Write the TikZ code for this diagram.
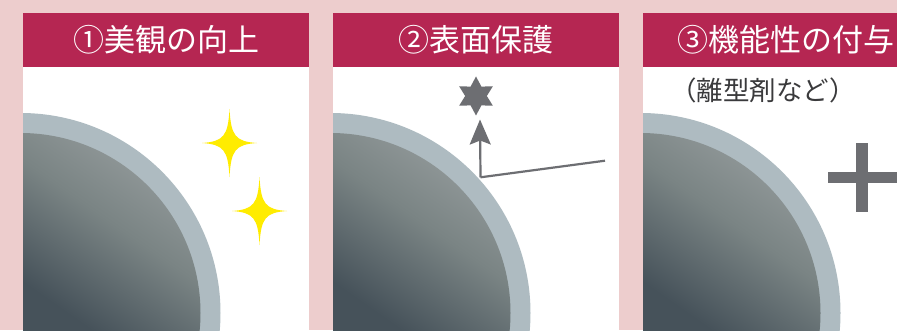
\documentclass[tikz,border=0pt]{standalone}
\usepackage{fontspec}
\newfontfamily\jpfont{Noto Sans CJK JP}
\usetikzlibrary{shapes.geometric,arrows.meta}
\definecolor{bgpink}{HTML}{EDCDCD}
\definecolor{headred}{HTML}{B52652}
\definecolor{rimgray}{HTML}{AEBBC1}
\definecolor{coreup}{HTML}{9CA2A3}
\definecolor{coremid}{HTML}{7A8484}
\definecolor{corelow}{HTML}{46525A}
\definecolor{markgray}{HTML}{6D6E72}
\definecolor{notegray}{HTML}{3A3A3C}
\definecolor{glint}{HTML}{FFEC00}
\tikzset{
    headbox/.style={fill=headred, text=white, minimum width=286pt,
        minimum height=54pt, inner sep=0pt,
        font=\jpfont\fontsize{31}{31}\selectfont}
}
\tikzset{
    hexstar/.style={star, star points=6, star point ratio=1.8,
        minimum size=39pt, inner sep=0pt, fill=markgray}
}
\tikzset{
    sparkle/.pic={
        \fill[glint] (0,34) .. controls (1.5,7) and (6,1.5) .. (27.5,0)
            .. controls (6,-1.5) and (1.5,-7) .. (0,-34)
            .. controls (-1.5,-7) and (-6,-1.5) .. (-27.5,0)
            .. controls (-6,1.5) and (-1.5,7) .. cycle;
    }
}

\begin{document}
\begin{tikzpicture}[x=1pt, y=1pt]
  \useasboundingbox (0,0) rectangle (897,330);
  \clip (0,0) rectangle (897,330);
  \fill[bgpink] (0,0) rectangle (897,330);

  \foreach \l/\n/\txt in {23/1/①美観の向上, 333/2/②表面保護, 643/3/③機能性の付与} {
    \fill[white] (\l,0) rectangle ++(286,263);
    \begin{scope}
      \clip (\l,0) rectangle ++(286,263);
      \fill[rimgray] (\l-2.5,17) circle[radius=200];
      \clip (\l-2.5,17) circle[radius=180];
      \shade[top color=coreup, bottom color=corelow, middle color=coremid,
        shading angle=-35] (\l,0) rectangle ++(200,200);
    \end{scope}
    \node (head\n) [headbox, anchor=south west] at (\l,263) {\txt};
  }

  \pic (glintA) at (229.5,187) {sparkle};
  \pic (glintB) at (259.5,119) {sparkle};

  \node (mark) [hexstar] at (476,234) {};
  \coordinate (base) at (480.5,152.7);
  \coordinate (tip) at (480,210.5);
  \coordinate (ray) at (605,169.3);
  \draw[markgray, line width=2.2pt] (ray) -- (base);
  \draw[markgray, line width=2.2pt,
    -{Stealth[length=25pt, width=21pt, inset=4pt]}] (base) -- (tip);

  \node (note) [text=notegray, font=\jpfont\fontsize{26.5}{26.5}\selectfont]
    at (763,240) {（離型剤など）};
  \fill[markgray] (827.5,146.7) rectangle ++(69,11.7);
  \fill[markgray] (856.2,118) rectangle ++(11.7,69);
\end{tikzpicture}
\end{document}
